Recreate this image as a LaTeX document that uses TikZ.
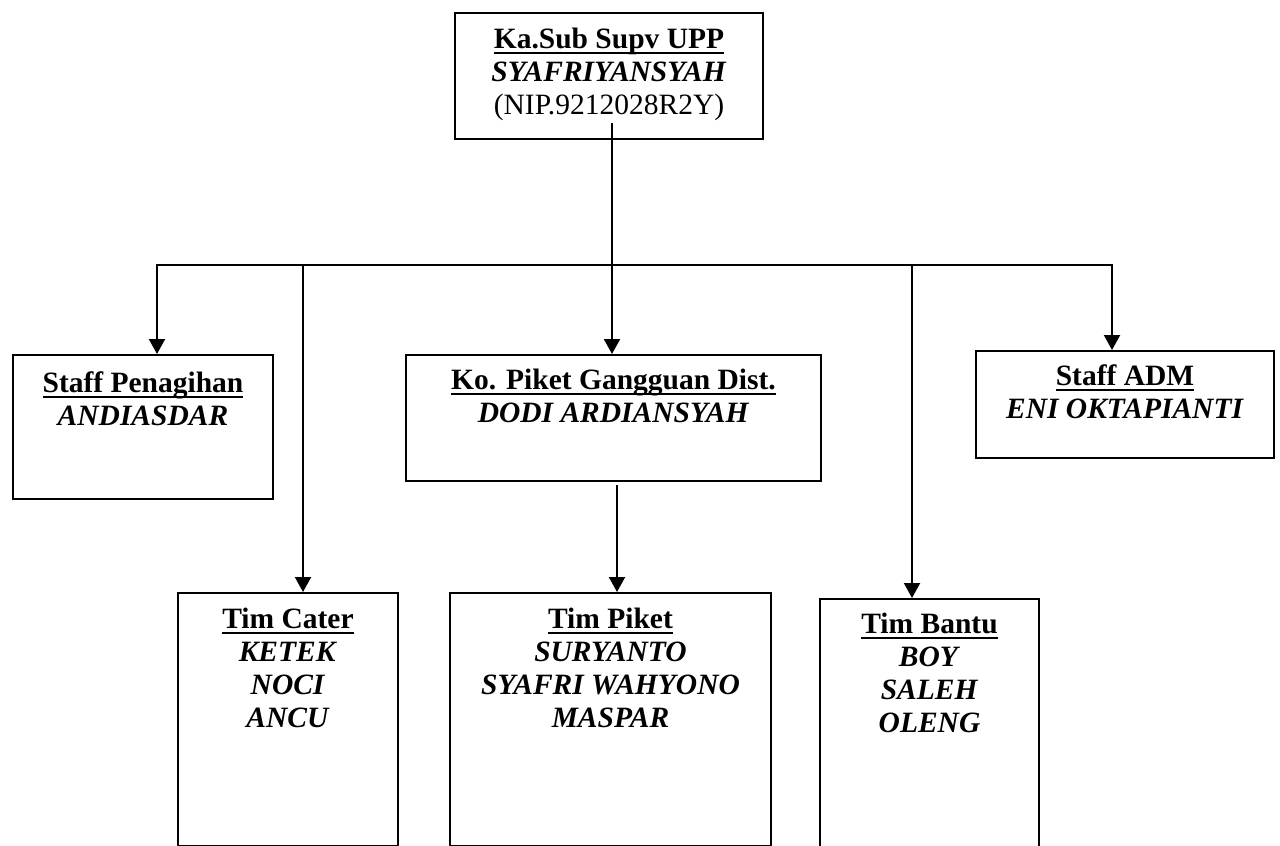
\documentclass[tikz,border=0pt]{standalone}
\usepackage{fontspec}
\setmainfont{Liberation Serif}
\usetikzlibrary{arrows.meta}
\newcommand\myul[1]{\leavevmode\setbox0\hbox{#1}\rlap{\rule[-6pt]{\wd0}{2pt}}\box0}
\tikzset{
  boxnode/.style={draw, line width=2pt, rectangle, inner sep=0pt, anchor=north west},
  lbl/.style={anchor=north, inner sep=0pt, align=center, font=\fontsize{29.5}{33}\selectfont},
  conn/.style={line width=2pt},
  arr/.style={conn, -{Triangle[length=15pt,width=16pt]}},
}
\begin{document}
\begin{tikzpicture}[x=1pt,y=-1pt]
\useasboundingbox (0,0) rectangle (1280,846);
\clip (0,0) rectangle (1280,846);
% boxes
\node[boxnode, minimum width=308pt, minimum height=126pt] (top) at (454,12) {};
\node[boxnode, minimum width=260pt, minimum height=144pt] (sp) at (12,354) {};
\node[boxnode, minimum width=415pt, minimum height=126pt] (kp) at (405,354) {};
\node[boxnode, minimum width=298pt, minimum height=107pt] (adm) at (975,350) {};
\node[boxnode, minimum width=220pt, minimum height=253pt] (cater) at (177,592) {};
\node[boxnode, minimum width=321pt, minimum height=253pt] (piket) at (449,592) {};
\node[boxnode, minimum width=219pt, minimum height=300pt] (bantu) at (819,598) {};
% texts
\node[lbl] (ttop) at ([yshift=-13pt]top.north) {\strut\textbf{\myul{Ka.Sub Supv UPP}}\\\textbf{\textit{SYAFRIYANSYAH}}\\(NIP.9212028R2Y)};
\node[lbl] (tsp) at ([yshift=-15pt]sp.north) {\strut\textbf{\myul{Staff Penagihan}}\\\textbf{\textit{ANDIASDAR}}};
\node[lbl] (tkp) at ([yshift=-12pt]kp.north) {\strut\textbf{\myul{Ko. Piket Gangguan Dist.}}\\\textbf{\textit{DODI ARDIANSYAH}}};
\node[lbl] (tadm) at ([yshift=-12pt]adm.north) {\strut\textbf{\myul{Staff ADM}}\\\textbf{\textit{ENI OKTAPIANTI}}};
\node[lbl] (tcater) at ([yshift=-13pt]cater.north) {\strut\textbf{\myul{Tim Cater}}\\\textbf{\textit{KETEK}}\\\textbf{\textit{NOCI}}\\\textbf{\textit{ANCU}}};
\node[lbl] (tpiket) at ([yshift=-13pt]piket.north) {\strut\textbf{\myul{Tim Piket}}\\\textbf{\textit{SURYANTO}}\\\textbf{\textit{SYAFRI WAHYONO}}\\\textbf{\textit{MASPAR}}};
\node[lbl] (tbantu) at ([yshift=-12pt]bantu.north) {\strut\textbf{\myul{Tim Bantu}}\\\textbf{\textit{BOY}}\\\textbf{\textit{SALEH}}\\\textbf{\textit{OLENG}}};
% connectors
\coordinate (jtop) at (612,123);
\coordinate (jmid) at (612,265);
\coordinate (jl) at (157,265);
\coordinate (jr) at (1112,265);
\coordinate (jc) at (303,265);
\coordinate (jb) at (912,265);
\coordinate (jp) at (617,485);
\draw[conn] (jtop) -- (jmid);
\draw[conn] ([xshift=-1pt]jl) -- ([xshift=1pt]jr);
\draw[arr] (jl) -- (jl |- sp.north);
\draw[arr] (jmid) -- (jmid |- kp.north);
\draw[arr] (jr) -- (jr |- adm.north);
\draw[arr] (jc) -- (jc |- cater.north);
\draw[arr] (jb) -- (jb |- bantu.north);
\draw[arr] (jp) -- (jp |- piket.north);
\end{tikzpicture}
\end{document}
